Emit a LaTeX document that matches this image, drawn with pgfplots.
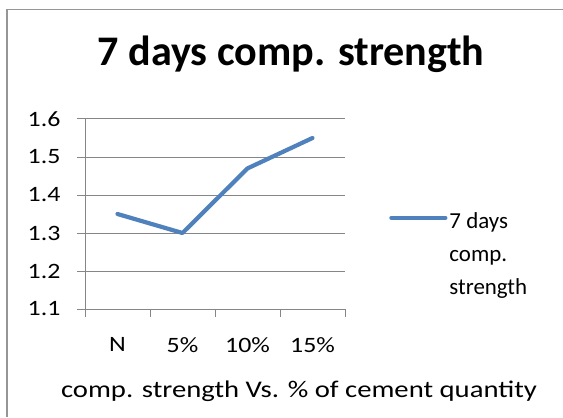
\documentclass[border=0pt]{standalone}
\usepackage{pgfplots}
\pgfplotsset{compat=1.18}
\usepackage{fontspec}
\setmainfont{Carlito}
\definecolor{line1}{RGB}{79,129,189}
\definecolor{gridc}{RGB}{134,134,134}
\definecolor{borderc}{RGB}{150,150,150}
\newcommand{\sx}[1]{\scalebox{1.18}[1]{#1}}
\begin{document}
\begin{tikzpicture}[x=1bp,y=1bp]
\useasboundingbox (0,0) rectangle (563,417);
\fill[borderc] (6.25,0) rectangle (7.75,408.25);
\fill[borderc] (6.25,406.75) rectangle (563,408.25);
\begin{axis}[
  at={(85bp,108bp)}, anchor=south west,
  scale only axis, width=260bp, height=190bp,
  xmin=-0.5, xmax=3.5, ymin=1.1, ymax=1.6,
  axis x line*=bottom, axis y line*=left,
  axis line style={gridc, line width=1bp, -},
  xtick={0,1,2,3}, xticklabels={\sx{N},\sx{5\%},\sx{10\%},\sx{15\%}},
  minor xtick={-0.5,0.5,1.5,2.5,3.5},
  major x tick style={draw=none},
  minor x tick style={gridc, line width=1bp},
  ytick={1.1,1.2,1.3,1.4,1.5,1.6},
  yticklabels={\sx{1.1},\sx{1.2},\sx{1.3},\sx{1.4},\sx{1.5},\sx{1.6}},
  y tick style={gridc, line width=1bp},
  tick align=outside, minor tick length=8bp, major tick length=8bp,
  ymajorgrids, grid style={gridc, line width=1bp},
  tick label style={font=\fontsize{22}{26}\selectfont, black},
  xticklabel style={yshift=-17bp},
  yticklabel style={xshift=-13bp},
  legend style={at={(axis description cs:1.158,0.48)}, anchor=west, draw=none, fill=none,
    font=\fontsize{23}{33}\selectfont, cells={anchor=west}},
  legend image code/.code={\draw[line1, line width=4.2bp, line cap=round] (0bp,0bp) -- (54bp,0bp);},
  clip=false,
]
\addplot[line1, line width=4.2bp, line join=round, line cap=round] coordinates {
  (0,1.35) (1,1.30) (2,1.47) (3,1.55)
};
\addlegendentry{\begin{tabular}[t]{@{}l@{}}7 days\\comp.\\strength\end{tabular}}
\end{axis}
\node[font=\fontsize{42.3}{46}\selectfont\bfseries, anchor=base] at (291,352) {7 days comp. strength};
\node[font=\fontsize{24}{28}\selectfont, anchor=base] at (299,20) {\scalebox{1.2}[1]{comp. strength Vs. \% of cement quantity}};
\end{tikzpicture}
\end{document}
